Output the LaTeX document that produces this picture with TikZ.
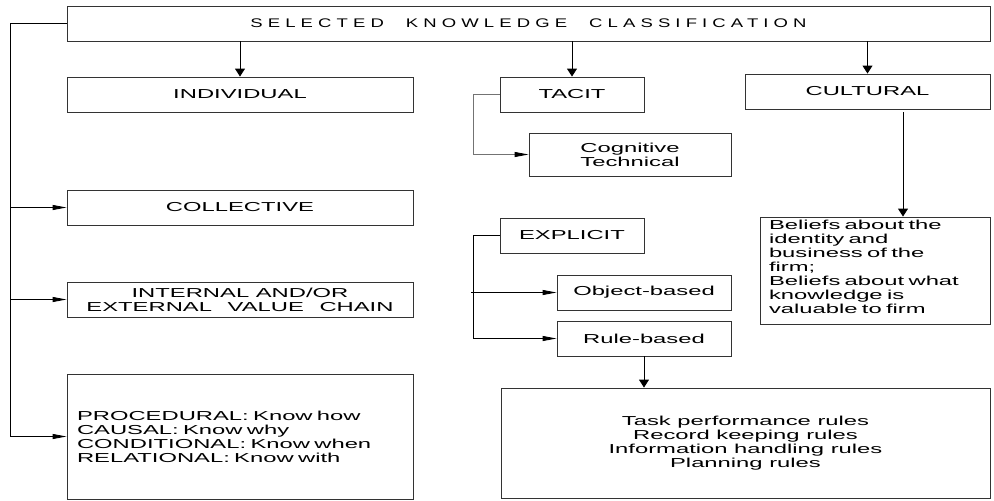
\documentclass[tikz,border=0pt]{standalone}
\usepackage{fontspec}
\setmainfont{Liberation Sans}[FakeStretch=1.83]
\newfontfamily\titlefont{Liberation Sans}[FakeStretch=1.48,LetterSpace=41]
\usetikzlibrary{arrows.meta}
\begin{document}
\begin{tikzpicture}[x=1pt,y=-1pt,
  box/.style={draw=black!80, line width=0.9pt, inner sep=0pt, align=center,
    font=\fontsize{13}{14}\selectfont},
  conn/.style={draw=black, line width=0.9pt},
  varrow/.style={conn, -{Triangle[length=8pt,width=10pt]}},
  harrow/.style={conn, -{Triangle[length=14pt,width=5pt,color=black]}}]
\useasboundingbox (0,0) rectangle (994,501);
% boxes
\node[box, minimum width=923pt, minimum height=35pt, font=\titlefont\fontsize{12.5}{14}\selectfont] (top) at (528.5,23.5)
  {SELECTED\hspace{22pt}KNOWLEDGE\hspace{22pt}CLASSIFICATION};
\node[box, minimum width=346pt, minimum height=35pt] (indiv) at (240,94.5) {INDIVIDUAL};
\node[box, minimum width=346pt, minimum height=35pt] (coll) at (240,207.5) {COLLECTIVE};
\node[box, minimum width=346pt, minimum height=35pt] (intl) at (240,299.5)
  {INTERNAL AND/OR\\EXTERNAL\hspace{9pt} VALUE\hspace{9pt} CHAIN};
\node[box, minimum height=125pt, text width=326pt, inner xsep=10pt, align=left] (proc) at (240,436.5)
  {PROCEDURAL: Know how\\CAUSAL: Know why\\CONDITIONAL: Know when\\RELATIONAL: Know with};
\node[box, minimum width=144pt, minimum height=35pt] (tacit) at (572,94.5) {TACIT};
\node[box, minimum width=202pt, minimum height=43pt] (cog) at (630,154.5) {Cognitive\\Technical};
\node[box, minimum width=144pt, minimum height=35pt] (expl) at (572,235.5) {EXPLICIT};
\node[box, minimum width=174pt, minimum height=35pt] (obj) at (644,292.5) {Object-based};
\node[box, minimum width=174pt, minimum height=35pt] (rule) at (644,338.5) {Rule-based};
\node[box, minimum width=489pt, minimum height=110pt] (rules) at (745.5,443)
  {Task performance rules\\Record keeping rules\\Information handling rules\\Planning rules};
\node[box, minimum width=245pt, minimum height=35pt] (cult) at (867.5,91.5) {CULTURAL};
\node[box, minimum height=107pt, text width=212pt, inner xsep=9pt, align=left] (bel) at (875,270.5)
  {Beliefs about the\\identity and\\business of the\\firm;\\Beliefs about what\\knowledge is\\valuable to firm\\[-6pt]\mbox{}};
% trunk coordinates
\coordinate (L) at (10,0);
\coordinate (M) at (473,0);
\coordinate (X) at (903,0);
% connectors
\draw[varrow] (indiv.north |- top.south) -- (indiv.north);
\draw[varrow] (tacit.north |- top.south) -- (tacit.north);
\draw[varrow] (cult.north |- top.south) -- (cult.north);
\draw[harrow] (top.west) -| (L |- proc.west) -- (proc.west);
\draw[harrow] (L |- coll.west) -- (coll.west);
\draw[harrow] (L |- intl.west) -- (intl.west);
\draw[harrow, draw=black!55] (tacit.west) -| (M |- cog.west) -- (cog.west);
\draw[harrow] (expl.west) -| (M |- rule.west) -- (rule.west);
\draw[harrow] ([xshift=-2pt]M |- obj.west) -- (obj.west);
\draw[varrow] (rule.south) -- (rule.south |- rules.north);
\draw[varrow] ([yshift=-3pt]X |- cult.south) -- (X |- bel.north);
\end{tikzpicture}
\end{document}
